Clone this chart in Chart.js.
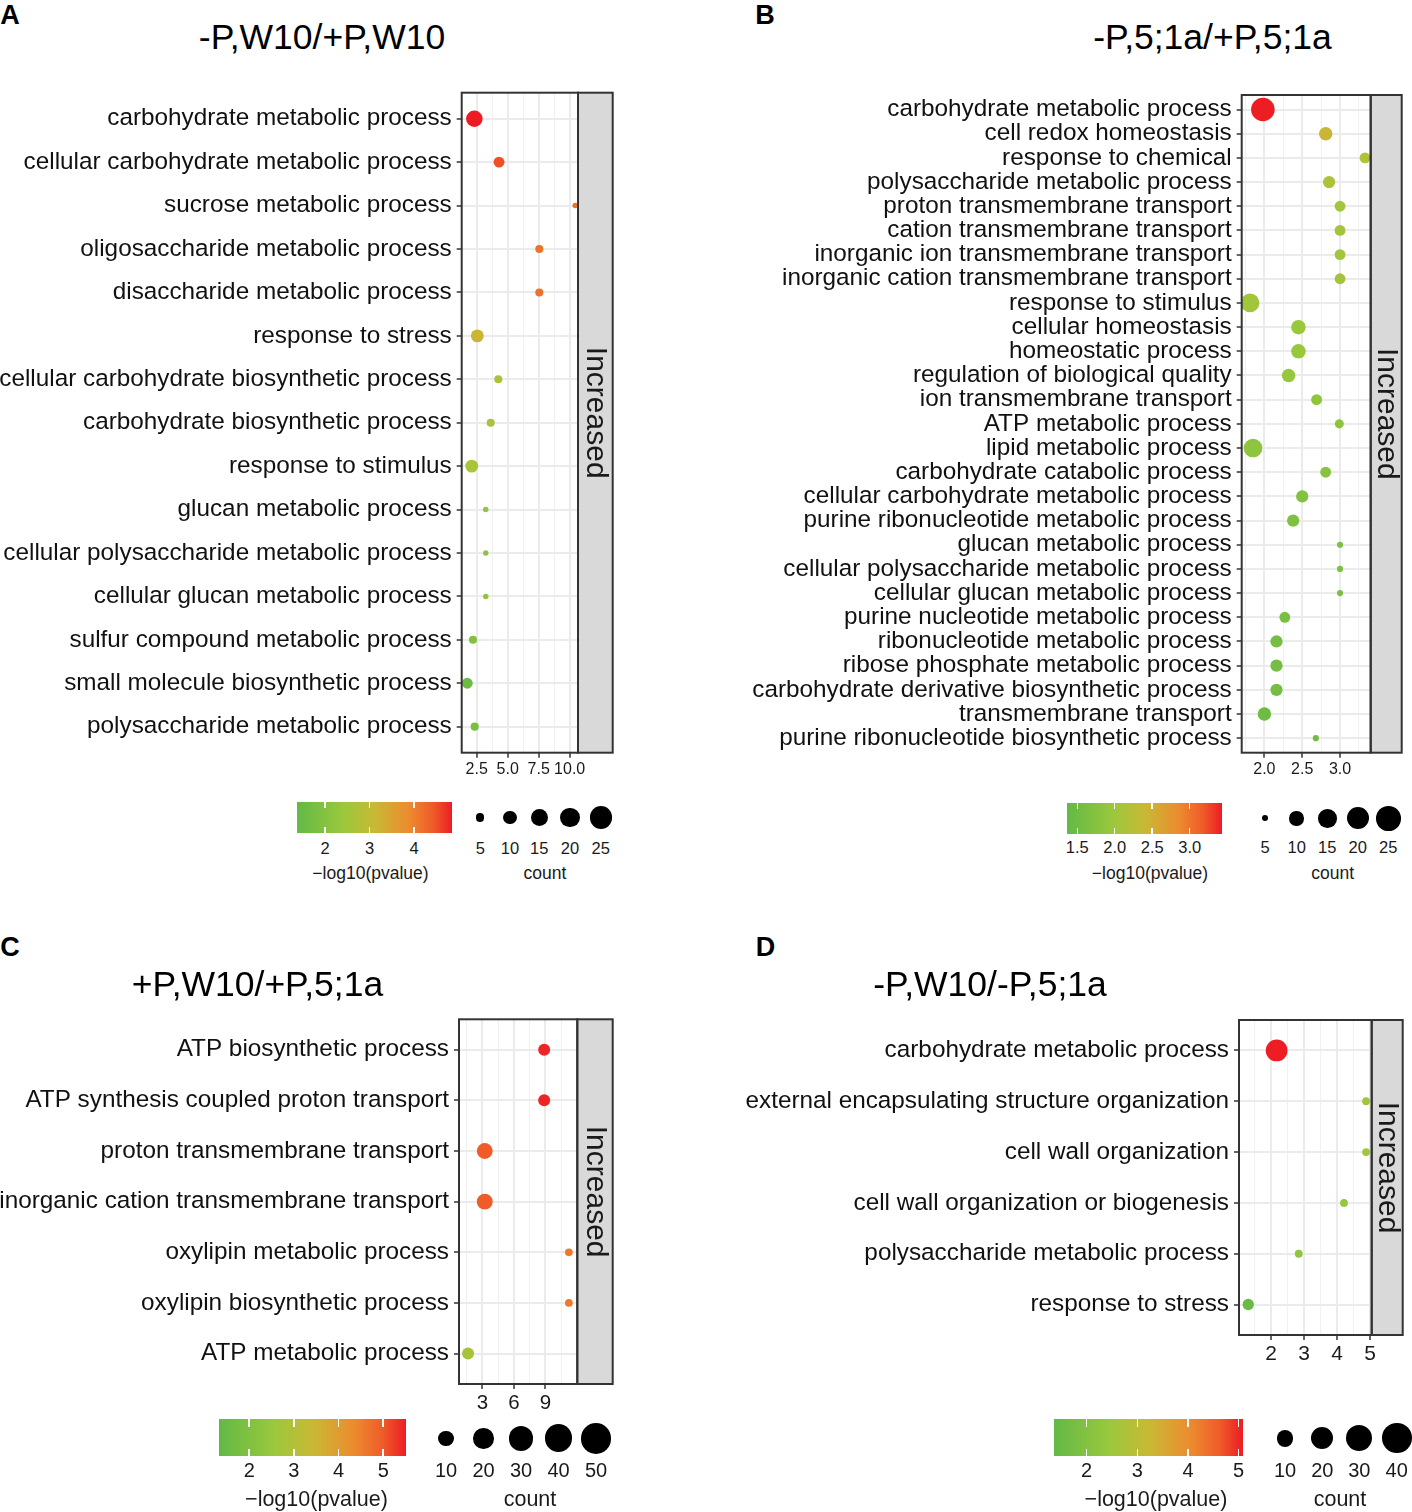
<!DOCTYPE html>
<html>
<head>
<meta charset="utf-8">
<title>GO enrichment bubble charts</title>
<script src="https://cdn.jsdelivr.net/npm/chart.js@4.4.1/dist/chart.umd.min.js"></script>
<style>
html,body{margin:0;padding:0;background:#fff;}
body{position:relative;width:1412px;height:1512px;overflow:hidden;font-family:"Liberation Sans",Arial,Helvetica,sans-serif;color:#000;}
canvas{position:absolute;}
.t{position:absolute;white-space:nowrap;line-height:1;transform:translate(-50%,-50%);}
.box{position:absolute;}
</style>
</head>
<body>
<script>
// ================= DATA =================
// Panel A
const titleA = '-P,W10/+P,W10';
const termsA = [
  'carbohydrate metabolic process',
  'cellular carbohydrate metabolic process',
  'sucrose metabolic process',
  'oligosaccharide metabolic process',
  'disaccharide metabolic process',
  'response to stress',
  'cellular carbohydrate biosynthetic process',
  'carbohydrate biosynthetic process',
  'response to stimulus',
  'glucan metabolic process',
  'cellular polysaccharide metabolic process',
  'cellular glucan metabolic process',
  'sulfur compound metabolic process',
  'small molecule biosynthetic process',
  'polysaccharide metabolic process'
];
const xA     = [2.31, 4.30, 10.45, 7.55, 7.55, 2.55, 4.24, 3.63, 2.10, 3.23, 3.23, 3.23, 2.20, 1.74, 2.34];
const countA = [14, 7, 4, 5, 5, 9, 5, 5, 9, 4, 4, 4, 5, 7, 5];
const logpA  = [4.85, 4.5, 4.2, 4.15, 4.15, 3.18, 2.7, 2.65, 2.6, 2.2, 2.2, 2.2, 1.93, 1.55, 1.82];
const xTickValsA = [2.5, 5, 7.5, 10];
const xTickLabelsA = ['2.5', '5.0', '7.5', '10.0'];
const xRangeA = [1.29, 10.67];
const colorRangeA = [1.37, 4.85];
const colorTicksA = [2, 3, 4];
const colorTickLabelsA = ['2', '3', '4'];
const sizeBreaksA = [5, 10, 15, 20, 25];

// Panel B
const titleB = '-P,5;1a/+P,5;1a';
const termsB = [
  'carbohydrate metabolic process',
  'cell redox homeostasis',
  'response to chemical',
  'polysaccharide metabolic process',
  'proton transmembrane transport',
  'cation transmembrane transport',
  'inorganic ion transmembrane transport',
  'inorganic cation transmembrane transport',
  'response to stimulus',
  'cellular homeostasis',
  'homeostatic process',
  'regulation of biological quality',
  'ion transmembrane transport',
  'ATP metabolic process',
  'lipid metabolic process',
  'carbohydrate catabolic process',
  'cellular carbohydrate metabolic process',
  'purine ribonucleotide metabolic process',
  'glucan metabolic process',
  'cellular polysaccharide metabolic process',
  'cellular glucan metabolic process',
  'purine nucleotide metabolic process',
  'ribonucleotide metabolic process',
  'ribose phosphate metabolic process',
  'carbohydrate derivative biosynthetic process',
  'transmembrane transport',
  'purine ribonucleotide biosynthetic process'
];
const xB     = [1.98, 2.81, 3.33, 2.855, 3.0, 3.0, 3.0, 3.0, 1.81, 2.45, 2.45, 2.32, 2.69, 2.99, 1.85, 2.81, 2.50, 2.38, 3.0, 3.0, 3.0, 2.27, 2.16, 2.16, 2.16, 2.0, 2.68];
const countB = [23, 9, 7, 8, 7, 7, 7, 7, 15, 10, 10, 9, 7, 6, 15, 7, 8, 8, 5, 5, 5, 7, 8, 8, 8, 9, 5];
const logpB  = [3.43, 2.44, 2.19, 2.15, 2.07, 2.07, 2.07, 2.07, 2.05, 1.97, 1.97, 1.93, 1.86, 1.82, 1.86, 1.78, 1.72, 1.68, 1.64, 1.64, 1.64, 1.62, 1.57, 1.57, 1.57, 1.49, 1.53];
const xTickValsB = [2.0, 2.5, 3.0];
const xTickLabelsB = ['2.0', '2.5', '3.0'];
const xRangeB = [1.70, 3.405];
const colorRangeB = [1.367, 3.435];
const colorTicksB = [1.5, 2.0, 2.5, 3.0];
const colorTickLabelsB = ['1.5', '2.0', '2.5', '3.0'];
const sizeBreaksB = [5, 10, 15, 20, 25];

// Panel C
const titleC = '+P,W10/+P,5;1a';
const termsC = [
  'ATP biosynthetic process',
  'ATP synthesis coupled proton transport',
  'proton transmembrane transport',
  'inorganic cation transmembrane transport',
  'oxylipin metabolic process',
  'oxylipin biosynthetic process',
  'ATP metabolic process'
];
const xC     = [8.88, 8.88, 3.23, 3.23, 11.23, 11.23, 1.64];
const countC = [6, 6, 11, 11, 3, 3, 6];
const logpC  = [5.43, 5.43, 5.0, 5.0, 4.6, 4.6, 2.79];
const xTickValsC = [3, 6, 9];
const xTickLabelsC = ['3', '6', '9'];
const xRangeC = [0.78, 12.03];
const colorRangeC = [1.33, 5.51];
const colorTicksC = [2, 3, 4, 5];
const colorTickLabelsC = ['2', '3', '4', '5'];
const sizeBreaksC = [10, 20, 30, 40, 50];

// Panel D
const titleD = '-P,W10/-P,5;1a';
const termsD = [
  'carbohydrate metabolic process',
  'external encapsulating structure organization',
  'cell wall organization',
  'cell wall organization or biogenesis',
  'polysaccharide metabolic process',
  'response to stress'
];
const xD     = [2.17, 4.88, 4.88, 4.21, 2.84, 1.31];
const countD = [19, 2, 2, 2, 2, 4];
const logpD  = [5.07, 2.58, 2.58, 2.36, 2.25, 1.5];
const xTickValsD = [2, 3, 4, 5];
const xTickLabelsD = ['2', '3', '4', '5'];
const xRangeD = [1.03, 5.05];
const colorRangeD = [1.355, 5.08];
const colorTicksD = [2, 3, 4, 5];
const colorTickLabelsD = ['2', '3', '4', '5'];
const sizeBreaksD = [10, 20, 30, 40];

const stripLabel = 'Increased';

// ================= STYLE / HELPERS =================
const FONT = '"Liberation Sans", Arial, Helvetica, sans-serif';
Chart.defaults.font.family = FONT;

const gradientStops = [[0,'#62B946'],[0.3,'#9BC83C'],[0.5,'#C8B935'],[0.72,'#EC8C2E'],[0.88,'#EF5A29'],[1,'#ED1C24']];
function hex2rgb(h){return [parseInt(h.slice(1,3),16),parseInt(h.slice(3,5),16),parseInt(h.slice(5,7),16)];}
function colorAt(v, range){
  let t = (v - range[0]) / (range[1] - range[0]);
  t = Math.max(0, Math.min(1, t));
  for (let i = 1; i < gradientStops.length; i++) {
    const [p1, c1] = gradientStops[i-1], [p2, c2] = gradientStops[i];
    if (t <= p2) {
      const f = (t - p1) / (p2 - p1), a = hex2rgb(c1), b = hex2rgb(c2);
      return 'rgb(' + a.map((x,k) => Math.round(x + (b[k]-x)*f)).join(',') + ')';
    }
  }
  return gradientStops[gradientStops.length-1][1];
}
function dotDiameter(count, p){
  const t = Math.max(0, Math.min(1, (count - p.cmin) / (p.cmax - p.cmin)));
  return p.k * (1 + 5 * Math.sqrt(t));
}
function addText(txt, x, y, size, opts){
  opts = opts || {};
  const d = document.createElement('div');
  d.className = 't';
  d.textContent = txt;
  d.style.left = x + 'px';
  d.style.top = y + 'px';
  d.style.fontSize = size + 'px';
  d.style.color = opts.color || '#000';
  if (opts.bold) d.style.fontWeight = 'bold';
  document.body.appendChild(d);
}
function addBox(l, t, w, h, style){
  const d = document.createElement('div');
  d.className = 'box';
  Object.assign(d.style, {left:l+'px', top:t+'px', width:w+'px', height:h+'px'}, style);
  document.body.appendChild(d);
}

const panelDeco = {
  id: 'panelDeco',
  afterDraw(chart, args, o) {
    const ctx = chart.ctx, a = chart.chartArea;
    ctx.save();
    ctx.fillStyle = '#D9D9D9';
    ctx.fillRect(a.right, a.top, o.stripW, a.bottom - a.top);
    ctx.strokeStyle = '#333333';
    ctx.lineWidth = 2;
    ctx.strokeRect(a.right, a.top, o.stripW, a.bottom - a.top);
    ctx.strokeRect(a.left, a.top, a.right - a.left, a.bottom - a.top);
    ctx.translate(a.right + o.stripW / 2, (a.top + a.bottom) / 2 + o.textShift);
    ctx.rotate(Math.PI / 2);
    ctx.fillStyle = '#1A1A1A';
    ctx.font = '30px ' + FONT;
    ctx.textAlign = 'center';
    ctx.textBaseline = 'middle';
    ctx.fillText(o.text, 0, 0);
    ctx.restore();
  }
};

function buildXTicks(vals, labels, range){
  const step = vals[1] - vals[0];
  const ticks = [];
  const minors = [vals[0] - step/2];
  vals.forEach(v => minors.push(v + step/2));
  minors.filter(v => v > range[0] && v < range[1]).forEach(v => ticks.push({value: v, isMinor: true, txt: ''}));
  vals.forEach((v,i) => ticks.push({value: v, isMinor: false, txt: labels[i]}));
  ticks.sort((p, q) => p.value - q.value);
  return ticks;
}

function makePanel(cfg){
  const c = document.createElement('canvas');
  c.width = cfg.box.w; c.height = cfg.box.h;
  c.style.left = cfg.box.l + 'px'; c.style.top = cfg.box.t + 'px';
  c.style.width = cfg.box.w + 'px'; c.style.height = cfg.box.h + 'px';
  document.body.appendChild(c);
  const X_H = 30;
  const n = cfg.terms.length;
  const pts = cfg.terms.map((t, i) => ({x: cfg.x[i], y: i, r: dotDiameter(cfg.count[i], cfg.size) / 2}));
  const cols = cfg.logp.map(v => colorAt(v, cfg.colorRange));
  const zeroPad = s => { s.paddingLeft = 0; s.paddingRight = 0; s.paddingTop = 0; s.paddingBottom = 0; };
  new Chart(c, {
    type: 'bubble',
    data: { datasets: [{ data: pts, backgroundColor: cols, borderWidth: 0, hoverBorderWidth: 0, hoverRadius: 0, clip: 0 }] },
    options: {
      responsive: false, animation: false, events: [],
      layout: { padding: {
        left: 0,
        top: cfg.area.t - cfg.box.t,
        right: cfg.box.l + cfg.box.w - cfg.area.r,
        bottom: cfg.box.t + cfg.box.h - cfg.area.b - X_H } },
      plugins: {
        legend: { display: false },
        tooltip: { enabled: false },
        panelDeco: { stripW: cfg.stripW, text: stripLabel, textShift: -10 }
      },
      scales: {
        x: {
          type: 'linear', min: cfg.xRange[0], max: cfg.xRange[1],
          afterBuildTicks: s => { s.ticks = buildXTicks(cfg.xTicks, cfg.xTickLabels, cfg.xRange); },
          afterFit: s => { s.height = X_H; zeroPad(s); },
          border: { display: false },
          grid: {
            color: ctx => (ctx.tick && ctx.tick.isMinor) ? '#F1F1F1' : '#EBEBEB',
            lineWidth: ctx => (ctx.tick && ctx.tick.isMinor) ? 1 : 2,
            tickColor: ctx => (ctx.tick && ctx.tick.isMinor) ? 'rgba(0,0,0,0)' : '#333333',
            tickWidth: 1.5, tickLength: 5
          },
          ticks: {
            autoSkip: false, maxRotation: 0, minRotation: 0, padding: cfg.xPad, color: '#1A1A1A',
            font: { size: cfg.xFont, lineHeight: 1 },
            callback: (v, i, t) => t[i].txt
          }
        },
        y: {
          type: 'linear', min: -0.6, max: n - 0.4, reverse: true,
          afterBuildTicks: s => { s.ticks = cfg.terms.map((t, i) => ({value: i, txt: t})); },
          afterFit: s => { s.width = cfg.area.l - cfg.box.l; zeroPad(s); },
          border: { display: false },
          grid: { color: '#EBEBEB', lineWidth: 2, tickColor: '#333333', tickWidth: 1.5, tickLength: 5 },
          ticks: {
            autoSkip: false, padding: 5, color: '#111111',
            font: { size: 24.3 },
            callback: (v, i, t) => t[i].txt
          }
        }
      }
    },
    plugins: [panelDeco]
  });
}

function addLegend(L, colorRange, cTicks, cLabels, sBreaks, sizeP){
  const grad = 'linear-gradient(to right, ' + gradientStops.map(s => s[1] + ' ' + (s[0]*100) + '%').join(', ') + ')';
  addBox(L.bar.l, L.bar.t, L.bar.w, L.bar.h, { background: grad });
  const th = L.bar.h / 5;
  cTicks.forEach((v, i) => {
    const x = L.bar.l + (v - colorRange[0]) / (colorRange[1] - colorRange[0]) * L.bar.w;
    addBox(x - 0.75, L.bar.t, 1.5, th, { background: '#fff' });
    addBox(x - 0.75, L.bar.t + L.bar.h - th, 1.5, th, { background: '#fff' });
    addText(cLabels[i], x, L.labelY, L.labelSize, {color: '#1A1A1A'});
  });
  addText('\u2212log10(pvalue)', L.titleX, L.titleY, L.titleSize, {color: '#1A1A1A'});
  sBreaks.forEach((cnt, i) => {
    const d = dotDiameter(cnt, sizeP);
    addBox(L.dotX[i] - d/2, L.dotY - d/2, d, d, { background: '#000', borderRadius: '50%' });
    addText(String(cnt), L.dotX[i], L.labelY, L.labelSize, {color: '#1A1A1A'});
  });
  addText('count', L.countX, L.titleY, L.titleSize, {color: '#1A1A1A'});
}

// ================= BUILD =================
const sizeA = {k: 3.7, cmin: 3.8, cmax: 25};
const sizeB = {k: 4.1, cmin: 4.8, cmax: 25};
const sizeC = {k: 5.1, cmin: 2.5, cmax: 50};
const sizeD = {k: 5.0, cmin: 1.5, cmax: 40.5};

makePanel({ terms: termsA, x: xA, count: countA, logp: logpA, xTicks: xTickValsA, xTickLabels: xTickLabelsA,
  xRange: xRangeA, colorRange: colorRangeA, size: sizeA,
  box: {l: 0, t: 80, w: 630, h: 720}, area: {l: 461.7, t: 92.7, r: 578, b: 752.7}, stripW: 34.7, xFont: 16, xPad: 3.5 });
makePanel({ terms: termsB, x: xB, count: countB, logp: logpB, xTicks: xTickValsB, xTickLabels: xTickLabelsB,
  xRange: xRangeB, colorRange: colorRangeB, size: sizeB,
  box: {l: 735, t: 80, w: 677, h: 720}, area: {l: 1241.7, t: 95, r: 1370.7, b: 752.7}, stripW: 31, xFont: 16, xPad: 3.5 });
makePanel({ terms: termsC, x: xC, count: countC, logp: logpC, xTicks: xTickValsC, xTickLabels: xTickLabelsC,
  xRange: xRangeC, colorRange: colorRangeC, size: sizeC,
  box: {l: 0, t: 1000, w: 630, h: 435}, area: {l: 459, t: 1019.3, r: 577.3, b: 1384}, stripW: 35.4, xFont: 20.5, xPad: 4 });
makePanel({ terms: termsD, x: xD, count: countD, logp: logpD, xTicks: xTickValsD, xTickLabels: xTickLabelsD,
  xRange: xRangeD, colorRange: colorRangeD, size: sizeD,
  box: {l: 735, t: 1000, w: 677, h: 435}, area: {l: 1239, t: 1020, r: 1371.7, b: 1335}, stripW: 31, xFont: 21, xPad: 4 });

// Titles and panel letters
addText('A', 10, 15, 27, {bold: true});
addText('B', 765, 15, 27, {bold: true});
addText('C', 10, 947, 27, {bold: true});
addText('D', 765.5, 947, 27, {bold: true});
addText(titleA, 322, 38, 35.5);
addText(titleB, 1212.5, 38, 35.5);
addText(titleC, 257.5, 985, 35.5);
addText(titleD, 990, 985, 35.5);

// Legends
addLegend({bar: {l: 297, t: 802, w: 155, h: 31}, labelY: 847.5, labelSize: 16.5, titleX: 370.5, titleY: 873.5, titleSize: 17.5,
  dotY: 817.5, dotX: [480.3, 510, 539.3, 570, 600.7], countX: 545},
  colorRangeA, colorTicksA, colorTickLabelsA, sizeBreaksA, sizeA);
addLegend({bar: {l: 1067.3, t: 803, w: 155, h: 31}, labelY: 847, labelSize: 16.5, titleX: 1150, titleY: 873.5, titleSize: 17.5,
  dotY: 818.3, dotX: [1265, 1296.7, 1327.3, 1357.7, 1388.3], countX: 1332.7},
  colorRangeB, colorTicksB, colorTickLabelsB, sizeBreaksB, sizeB);
addLegend({bar: {l: 219.3, t: 1419.3, w: 186.7, h: 36.7}, labelY: 1470, labelSize: 20, titleX: 316.5, titleY: 1499.5, titleSize: 21.5,
  dotY: 1438.3, dotX: [446, 483.5, 521, 558.5, 596], countX: 530},
  colorRangeC, colorTicksC, colorTickLabelsC, sizeBreaksC, sizeC);
addLegend({bar: {l: 1054, t: 1419.3, w: 188.7, h: 36.7}, labelY: 1470, labelSize: 20, titleX: 1156, titleY: 1499.5, titleSize: 21.5,
  dotY: 1438.3, dotX: [1285, 1322.3, 1359.3, 1396.7], countX: 1340},
  colorRangeD, colorTicksD, colorTickLabelsD, sizeBreaksD, sizeD);
</script>
</body>
</html>
